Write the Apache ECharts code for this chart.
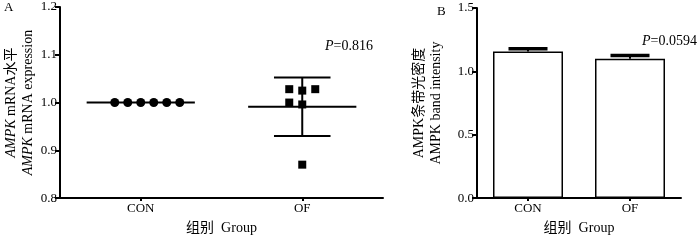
<!DOCTYPE html>
<html>
<head>
<meta charset="utf-8">
<script src="https://cdn.jsdelivr.net/npm/echarts@6/dist/echarts.min.js"></script>
<style>
html, body { margin: 0; padding: 0; background: #fff; }
#chart { width: 700px; height: 242px; }
</style>
</head>
<body>
<div id="chart"></div>
<script>
// groups on the x axis
var groups = ['CON', 'OF'];

// panel A: individual mRNA values
var conValues = [1.0, 1.0, 1.0, 1.0, 1.0, 1.0];
var ofValues = [1.028, 1.025, 1.028, 1.0, 0.996, 0.87];
// column slot of each point (scatter spread around the group)
var conSlots = [-2, -1, 0, 1, 2, 3];
var ofSlots = [-1, 0, 1, -1, 0, 0];
var yTicksA = [0.8, 0.9, 1.0, 1.1, 1.2];

// panel B: band intensity, mean and upper error
var bandMeans = [1.157, 1.100];
var bandErrors = [0.021, 0.025];
var yTicksB = [0.0, 0.5, 1.0, 1.5];

var pValues = ['0.816', '0.0594'];

var serif = "'Liberation Serif', 'Times New Roman', 'Noto Sans CJK SC', serif";
var black = '#000';

function mean(arr) {
	var s = 0;
	for (var i = 0; i < arr.length; i++) s += arr[i];
	return s / arr.length;
}
function sd(arr) {
	var m = mean(arr), s = 0;
	for (var i = 0; i < arr.length; i++) s += (arr[i] - m) * (arr[i] - m);
	return Math.sqrt(s / (arr.length - 1));
}

var slotStep = 0.161;
function spread(values, slots, center) {
	var out = [];
	for (var i = 0; i < values.length; i++) {
		out.push([center + slots[i] * slotStep, values[i]]);
	}
	return out;
}

var summaryA = [
	[1, mean(conValues), sd(conValues)],
	[3, mean(ofValues), sd(ofValues)]
];
var summaryB = [];
for (var i = 0; i < groups.length; i++) {
	summaryB.push([i, bandMeans[i], bandErrors[i]]);
}

var lineStyle = { color: black, width: 2 };
var labelStyle = { color: black, fontFamily: serif, fontSize: 13 };
var nameStyle = {
	color: black, fontFamily: serif, fontSize: 14, lineHeight: 17,
	rich: { i: { fontStyle: 'italic', fontFamily: serif, fontSize: 14, color: black } }
};

function meanSdItem(params, api) {
	var x = api.value(0), m = api.value(1), s = api.value(2);
	var half = 0.67, cap = 0.35;
	var a = api.coord([x - half, m]), b = api.coord([x + half, m]);
	var style = { stroke: black, lineWidth: 2 };
	var children = [{ type: 'line', shape: { x1: a[0], y1: a[1], x2: b[0], y2: b[1] }, style: style }];
	if (s > 0) {
		var top = api.coord([x, m + s]), bot = api.coord([x, m - s]);
		var tl = api.coord([x - cap, m + s]), tr = api.coord([x + cap, m + s]);
		var bl = api.coord([x - cap, m - s]), br = api.coord([x + cap, m - s]);
		children.push({ type: 'line', shape: { x1: top[0], y1: top[1], x2: bot[0], y2: bot[1] }, style: style });
		children.push({ type: 'line', shape: { x1: tl[0], y1: tl[1], x2: tr[0], y2: tr[1] }, style: style });
		children.push({ type: 'line', shape: { x1: bl[0], y1: bl[1], x2: br[0], y2: br[1] }, style: style });
	}
	return { type: 'group', children: children };
}

function errorBarItem(params, api) {
	var base = api.coord([api.value(0), api.value(1)]);
	var top = api.coord([api.value(0), api.value(1) + api.value(2)]);
	var half = 19.5;
	return {
		type: 'group',
		children: [
			{ type: 'line', shape: { x1: base[0], y1: base[1], x2: top[0], y2: top[1] }, style: { stroke: black, lineWidth: 2 } },
			{ type: 'line', shape: { x1: top[0] - half, y1: top[1], x2: top[0] + half, y2: top[1] }, style: { stroke: black, lineWidth: 3.5 } }
		]
	};
}

function yAxis(grid, ticks, name, gap) {
	return {
		type: 'value', gridIndex: grid,
		min: ticks[0], max: ticks[ticks.length - 1],
		interval: ticks[1] - ticks[0],
		name: name, nameLocation: 'middle', nameRotate: 90, nameGap: gap,
		nameTextStyle: nameStyle,
		axisLine: { show: true, lineStyle: lineStyle },
		axisTick: { show: true, length: 5, lineStyle: lineStyle },
		axisLabel: Object.assign({ margin: 3, formatter: function (v) { return v.toFixed(1); } }, labelStyle),
		splitLine: { show: false }
	};
}

function xCat(grid) {
	return {
		type: 'category', gridIndex: grid, data: groups,
		boundaryGap: true,
		name: '组别  Group', nameLocation: 'middle', nameGap: 21,
		nameTextStyle: nameStyle,
		axisLine: { show: true, lineStyle: lineStyle },
		axisTick: { show: true, alignWithLabel: true, length: 3, lineStyle: lineStyle },
		axisLabel: Object.assign({ margin: 4, interval: 0 }, labelStyle),
		splitLine: { show: false }
	};
}

var myChart = echarts.init(document.getElementById('chart'), null, { renderer: 'canvas' });
var option = {
	animation: false,
	backgroundColor: '#fff',
	grid: [
		{ left: 60, top: 7, width: 323, height: 200 },
		{ left: 477, top: 8, width: 204, height: 199 }
	],
	xAxis: [
		xCat(0),
		{ type: 'value', gridIndex: 0, min: 0, max: 4, show: false },
		xCat(1)
	],
	yAxis: [
		yAxis(0, yTicksA, '{i|AMPK} mRNA水平\n{i|AMPK} mRNA expression', 22),
		yAxis(1, yTicksB, 'AMPK条带光密度\nAMPK band intensity', 32)
	],
	graphic: [
		{ type: 'text', left: 4, top: 1, style: { text: 'A', font: '13px ' + serif, fill: black } },
		{ type: 'text', left: 437, top: 5, style: { text: 'B', font: '13px ' + serif, fill: black } },
		{ type: 'text', left: 325, top: 39, style: { text: '{i|P}=' + pValues[0], font: '14px ' + serif, fill: black,
			rich: { i: { fontStyle: 'italic', fontFamily: serif, fontSize: 14 } } } },
		{ type: 'text', left: 642, top: 34, style: { text: '{i|P}=' + pValues[1], font: '14px ' + serif, fill: black,
			rich: { i: { fontStyle: 'italic', fontFamily: serif, fontSize: 14 } } } }
	],
	series: [
		{
			name: 'CON', type: 'scatter', xAxisIndex: 1, yAxisIndex: 0,
			symbol: 'circle', symbolSize: 9, itemStyle: { color: black, opacity: 1 },
			data: spread(conValues, conSlots, 1), z: 3
		},
		{
			name: 'OF', type: 'scatter', xAxisIndex: 1, yAxisIndex: 0,
			symbol: 'rect', symbolSize: 8, itemStyle: { color: black, opacity: 1 },
			data: spread(ofValues, ofSlots, 3), z: 3
		},
		{
			name: 'meanSD', type: 'custom', xAxisIndex: 1, yAxisIndex: 0,
			renderItem: meanSdItem, data: summaryA, z: 2
		},
		{
			name: 'band', type: 'bar', xAxisIndex: 2, yAxisIndex: 1,
			barWidth: 70,
			itemStyle: { color: '#fff', borderColor: black, borderWidth: 1.5 },
			data: bandMeans
		},
		{
			name: 'err', type: 'custom', xAxisIndex: 2, yAxisIndex: 1,
			renderItem: errorBarItem, data: summaryB, z: 3
		}
	]
};
myChart.setOption(option);
</script>
</body>
</html>
